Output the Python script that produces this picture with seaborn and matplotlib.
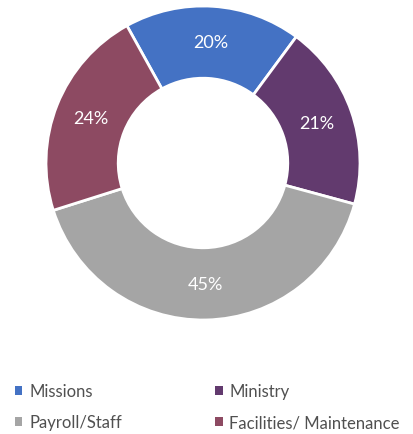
import matplotlib
matplotlib.use("Agg")
import matplotlib.pyplot as plt
from matplotlib.patches import Patch
import numpy as np
import seaborn as sns

categories = ["Missions", "Ministry", "Payroll/Staff", "Facilities/ Maintenance"]
values = [20, 21, 45, 24]
labels = ["20%", "21%", "45%", "24%"]
colors = ["#4472C4", "#623A6E", "#A5A5A5", "#8D4A62"]

sns.set_theme(style="white")
plt.rcParams["font.family"] = ["Lato", "DejaVu Sans"]

W, H = 414, 435
fig = plt.figure(figsize=(W / 100, H / 100), dpi=100)
cx, cy, r = 203, 164, 157
ax = fig.add_axes([(cx - r) / W, (H - cy - r) / H, 2 * r / W, 2 * r / H])

width = 0.46
wedges, _ = ax.pie(values, colors=colors, startangle=119, counterclock=False,
                   radius=1.0,
                   wedgeprops=dict(width=width, edgecolor="white", linewidth=2))
total = sum(values)
ang = 119
for v, lab in zip(values, labels):
    span = v / total * 360
    mid = np.deg2rad(ang - span / 2)
    rr = 1 - width / 2
    ax.text(rr * np.cos(mid), rr * np.sin(mid), lab, ha="center", va="center",
            color="white", fontsize=13)
    ang -= span
ax.set_xlim(-1, 1)
ax.set_ylim(-1, 1)
ax.set_aspect("equal")
ax.axis("off")

order = [0, 2, 1, 3]
handles = [Patch(facecolor=colors[i], edgecolor="none") for i in order]
leg = fig.legend(handles, [categories[i] for i in order], ncol=2,
                 loc="center left", bbox_to_anchor=(0.036, (H - 408) / H),
                 frameon=False, fontsize=12, handlelength=0.45, handleheight=0.45,
                 handletextpad=0.4, columnspacing=5.6, labelspacing=0.9,
                 borderpad=0, borderaxespad=0, labelcolor="#505050")
fig.savefig("out.png", dpi=100)
